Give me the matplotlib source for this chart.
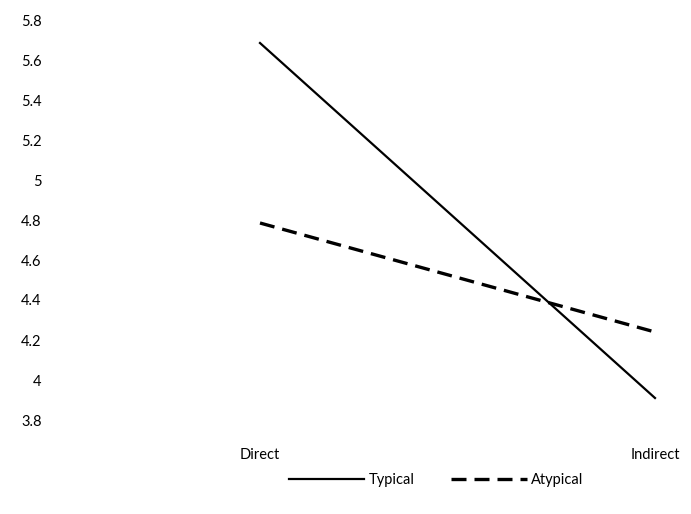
import matplotlib
matplotlib.use("Agg")
from matplotlib import pyplot

pyplot.rcParams['font.family'] = ['Lato', 'DejaVu Sans']

# values
categories = ['Direct', 'Indirect']
typical = [5.685, 3.91]
atypical = [4.785, 4.24]
yticks = [3.8, 4, 4.2, 4.4, 4.6, 4.8, 5, 5.2, 5.4, 5.6, 5.8]
ytick_labels = ['3.8', '4', '4.2', '4.4', '4.6', '4.8', '5', '5.2', '5.4', '5.6', '5.8']

fig = pyplot.figure(figsize=(6.91, 5.14), dpi=100)
ax = fig.add_axes([50 / 691, 94 / 514, 641 / 691, 400 / 514])

x = list(range(len(categories)))
ax.plot(x, typical, color='black', linewidth=1.6, label='Typical')
ax.plot(x, atypical, color='black', linewidth=2.4, dashes=(4.5, 2.4), label='Atypical')

ax.set_xlim(-210 / 395, 431 / 395)
ax.set_ylim(3.8, 5.8)
ax.set_xticks(x)
ax.set_xticklabels(categories)
ax.set_yticks(yticks)
ax.set_yticklabels(ytick_labels)

for side in ['top', 'right', 'left', 'bottom']:
    ax.spines[side].set_visible(False)
ax.tick_params(axis='both', length=0, labelsize=10.5, colors='black')
ax.tick_params(axis='x', pad=20)
ax.tick_params(axis='y', pad=6)

ax.legend(loc='center', bbox_to_anchor=(436 / 691, 34 / 514), bbox_transform=fig.transFigure,
          ncol=2, frameon=False, handlelength=5.2, handletextpad=0.3, columnspacing=2.5,
          fontsize=10.5)

fig.savefig('out.png', dpi=100)
pyplot.close(fig)
